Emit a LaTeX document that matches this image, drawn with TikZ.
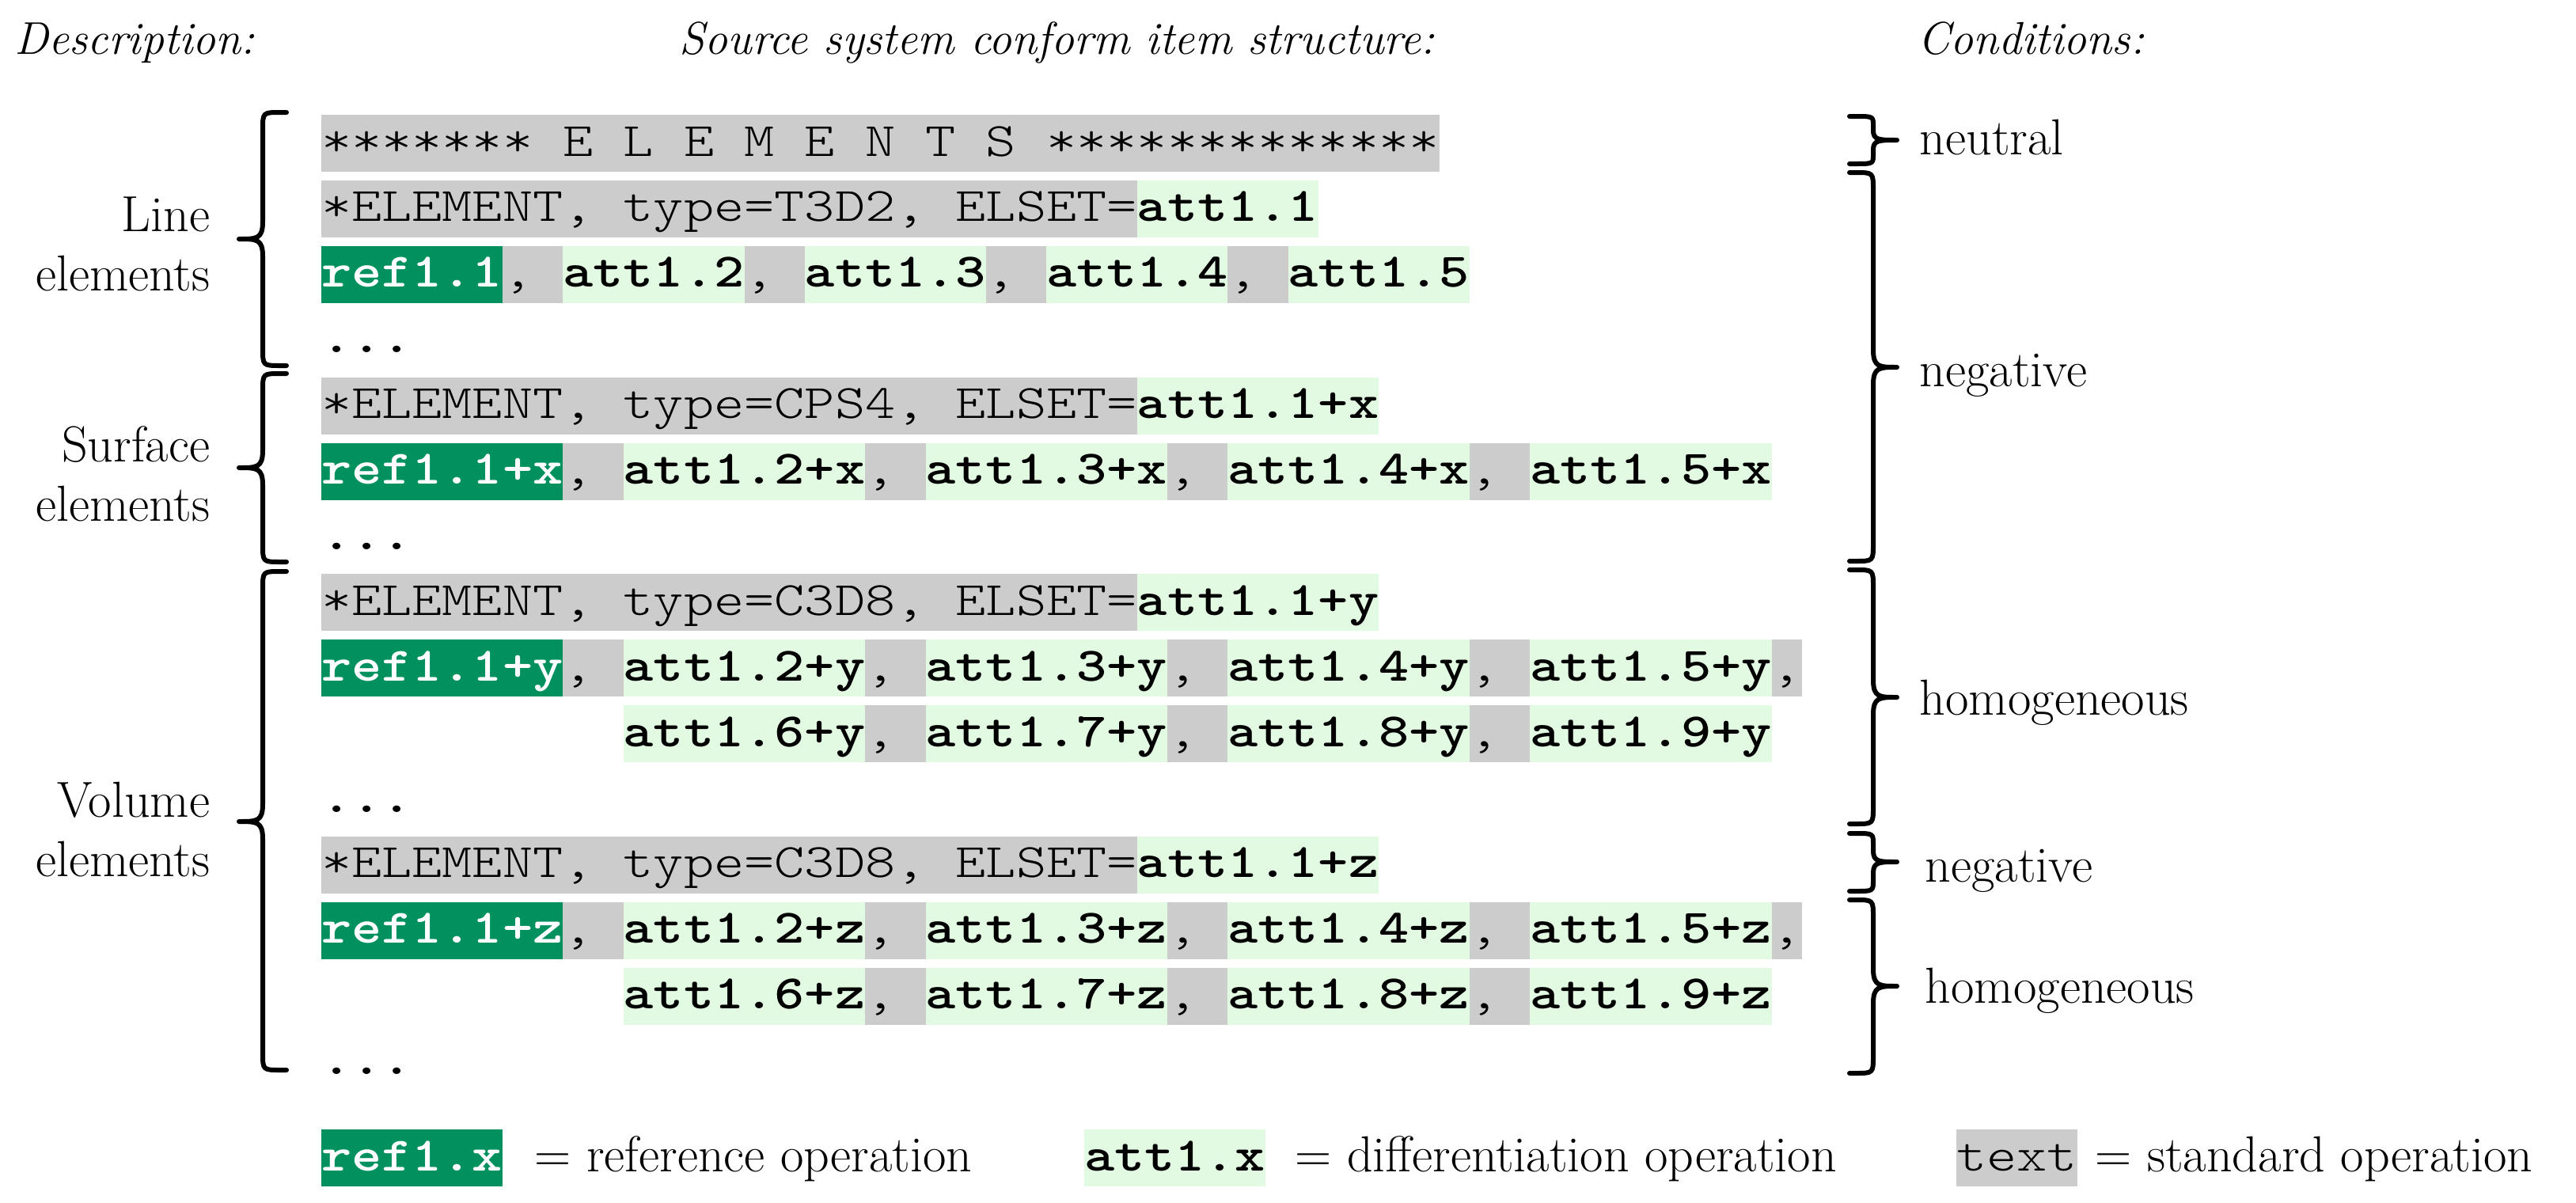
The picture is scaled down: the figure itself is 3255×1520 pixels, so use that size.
\documentclass[tikz,border=0pt]{standalone}
\usepackage{fontspec}
\newfontfamily\codefont{lmmonolt10-regular.otf}[FakeStretch=1.2,BoldFont=lmmonolt10-bold.otf]
\definecolor{refgreen}{RGB}{0,145,95}
\definecolor{attgreen}{RGB}{226,250,226}
\definecolor{stdgray}{RGB}{204,204,204}
\tikzset{
  codebox/.style={anchor=north west, inner sep=0pt, outer sep=0pt, text height=13pt, text depth=5pt,
    font=\codefont\fontsize{15.15}{18}\selectfont},
  stdseg/.style={codebox, fill=stdgray},
  attseg/.style={codebox, fill=attgreen, font=\codefont\fontsize{15.15}{18}\selectfont\bfseries},
  refseg/.style={codebox, fill=refgreen, text=white, font=\codefont\fontsize{15.15}{18}\selectfont\bfseries},
  plainseg/.style={codebox, font=\codefont\fontsize{15.15}{18}\selectfont\bfseries},
  lbl/.style={font=\fontsize{16}{18.75}\selectfont, inner sep=0pt},
  head/.style={font=\fontsize{14.5}{17}\selectfont\itshape, inner sep=0pt},
  bracestyle/.style={line width=1.5pt, line join=round, line cap=round}
}
% segment: style, name, position, number of characters, text
\newcommand\seg[5]{\node[#1seg, minimum width={#4*9.545pt}] (#2) at (#3) {#5};}
\newcommand\cs{,\hphantom{x}}
% curly brace: end x, half amplitude (signed), top y, tip y, bottom y, radius
\newcommand\cbrace[6]{%
  \draw[bracestyle] (#1,#3) -- ({#1+0.25*(#2)},#3) .. controls ({#1+#2},#3) .. ({#1+#2},{#3+#6})
    -- ({#1+#2},{#4-#6}) .. controls ({#1+#2},#4) and ({#1+1.25*(#2)},#4) .. ({#1+2*(#2)},#4)
    .. controls ({#1+1.25*(#2)},#4) and ({#1+#2},#4) .. ({#1+#2},{#4+#6})
    -- ({#1+#2},{#5-#6}) .. controls ({#1+#2},#5) .. ({#1+0.25*(#2)},#5) -- (#1,#5);}
\begin{document}
\begin{tikzpicture}[x=0.25pt, y=-0.25pt]
\useasboundingbox (0,0) rectangle (3255,1520);

% headers
\node[head, anchor=base west] (hdesc) at (18,68) {Description:};
\node[head, anchor=base] (hsrc) at (1336,68) {Source system conform item structure:};
\node[head, anchor=base west] (hcond) at (2423,68) {Conditions:};

% row 0
\seg{std}{r0a}{406,145}{37}{******* E L E M E N T S *************}
% row 1
\seg{std}{r1a}{406,227.9}{27}{*ELEMENT, type=T3D2, ELSET=}
\seg{att}{r1b}{r1a.north east}{6}{att1.1}
% row 2
\seg{ref}{r2a}{406,310.8}{6}{ref1.1}
\seg{std}{r2b}{r2a.north east}{2}{\cs}
\seg{att}{r2c}{r2b.north east}{6}{att1.2}
\seg{std}{r2d}{r2c.north east}{2}{\cs}
\seg{att}{r2e}{r2d.north east}{6}{att1.3}
\seg{std}{r2f}{r2e.north east}{2}{\cs}
\seg{att}{r2g}{r2f.north east}{6}{att1.4}
\seg{std}{r2h}{r2g.north east}{2}{\cs}
\seg{att}{r2i}{r2h.north east}{6}{att1.5}
% row 3
\seg{plain}{r3a}{406,393.7}{3}{...}
% row 4
\seg{std}{r4a}{406,476.6}{27}{*ELEMENT, type=CPS4, ELSET=}
\seg{att}{r4b}{r4a.north east}{8}{att1.1+x}
% row 5
\seg{ref}{r5a}{406,559.5}{8}{ref1.1+x}
\seg{std}{r5b}{r5a.north east}{2}{\cs}
\seg{att}{r5c}{r5b.north east}{8}{att1.2+x}
\seg{std}{r5d}{r5c.north east}{2}{\cs}
\seg{att}{r5e}{r5d.north east}{8}{att1.3+x}
\seg{std}{r5f}{r5e.north east}{2}{\cs}
\seg{att}{r5g}{r5f.north east}{8}{att1.4+x}
\seg{std}{r5h}{r5g.north east}{2}{\cs}
\seg{att}{r5i}{r5h.north east}{8}{att1.5+x}
% row 6
\seg{plain}{r6a}{406,642.4}{3}{...}
% row 7
\seg{std}{r7a}{406,725.3}{27}{*ELEMENT, type=C3D8, ELSET=}
\seg{att}{r7b}{r7a.north east}{8}{att1.1+y}
% row 8
\seg{ref}{r8a}{406,808.2}{8}{ref1.1+y}
\seg{std}{r8b}{r8a.north east}{2}{\cs}
\seg{att}{r8c}{r8b.north east}{8}{att1.2+y}
\seg{std}{r8d}{r8c.north east}{2}{\cs}
\seg{att}{r8e}{r8d.north east}{8}{att1.3+y}
\seg{std}{r8f}{r8e.north east}{2}{\cs}
\seg{att}{r8g}{r8f.north east}{8}{att1.4+y}
\seg{std}{r8h}{r8g.north east}{2}{\cs}
\seg{att}{r8i}{r8h.north east}{8}{att1.5+y}
\seg{std}{r8j}{r8i.north east}{1}{,}
% row 9
\seg{att}{r9a}{787.8,891.1}{8}{att1.6+y}
\seg{std}{r9b}{r9a.north east}{2}{\cs}
\seg{att}{r9c}{r9b.north east}{8}{att1.7+y}
\seg{std}{r9d}{r9c.north east}{2}{\cs}
\seg{att}{r9e}{r9d.north east}{8}{att1.8+y}
\seg{std}{r9f}{r9e.north east}{2}{\cs}
\seg{att}{r9g}{r9f.north east}{8}{att1.9+y}
% row 10
\seg{plain}{r10a}{406,974}{3}{...}
% row 11
\seg{std}{r11a}{406,1056.9}{27}{*ELEMENT, type=C3D8, ELSET=}
\seg{att}{r11b}{r11a.north east}{8}{att1.1+z}
% row 12
\seg{ref}{r12a}{406,1139.8}{8}{ref1.1+z}
\seg{std}{r12b}{r12a.north east}{2}{\cs}
\seg{att}{r12c}{r12b.north east}{8}{att1.2+z}
\seg{std}{r12d}{r12c.north east}{2}{\cs}
\seg{att}{r12e}{r12d.north east}{8}{att1.3+z}
\seg{std}{r12f}{r12e.north east}{2}{\cs}
\seg{att}{r12g}{r12f.north east}{8}{att1.4+z}
\seg{std}{r12h}{r12g.north east}{2}{\cs}
\seg{att}{r12i}{r12h.north east}{8}{att1.5+z}
\seg{std}{r12j}{r12i.north east}{1}{,}
% row 13
\seg{att}{r13a}{787.8,1222.7}{8}{att1.6+z}
\seg{std}{r13b}{r13a.north east}{2}{\cs}
\seg{att}{r13c}{r13b.north east}{8}{att1.7+z}
\seg{std}{r13d}{r13c.north east}{2}{\cs}
\seg{att}{r13e}{r13d.north east}{8}{att1.8+z}
\seg{std}{r13f}{r13e.north east}{2}{\cs}
\seg{att}{r13g}{r13f.north east}{8}{att1.9+z}
% row 14
\seg{plain}{r14a}{406,1305.6}{3}{...}

% left descriptions
\node[lbl, anchor=base east] (dline) at (266,292) {\begin{tabular}[t]{@{}r@{}}Line\\elements\end{tabular}};
\node[lbl, anchor=base east] (dsurf) at (266,583) {\begin{tabular}[t]{@{}r@{}}Surface\\elements\end{tabular}};
\node[lbl, anchor=base east] (dvol) at (266,1032) {\begin{tabular}[t]{@{}r@{}}Volume\\elements\end{tabular}};

% left braces
\cbrace{362}{-30}{142}{302}{462}{22}
\cbrace{362}{-30}{472}{591}{710}{22}
\cbrace{362}{-30}{722}{1038}{1352}{22}

% right braces
\cbrace{2337}{30}{147}{177}{207}{12}
\cbrace{2337}{30}{218}{464}{709}{22}
\cbrace{2337}{30}{720}{881}{1041}{22}
\cbrace{2337}{30}{1053}{1089}{1126}{14}
\cbrace{2337}{30}{1137}{1246}{1356}{22}

% conditions
\node[lbl, anchor=base west] (cneu) at (2425,195) {neutral};
\node[lbl, anchor=base west] (cneg1) at (2425,488) {negative};
\node[lbl, anchor=base west] (chom1) at (2425,903) {homogeneous};
\node[lbl, anchor=base west] (cneg2) at (2432,1114) {negative};
\node[lbl, anchor=base west] (chom2) at (2432,1267) {homogeneous};

% legend
\seg{ref}{lgref}{406,1427}{6}{ref1.x}
\node[lbl, anchor=base west] (lgreft) at (675,1480) {= reference operation};
\seg{att}{lgatt}{1370,1427}{6}{att1.x}
\node[lbl, anchor=base west] (lgattt) at (1636,1480) {= differentiation operation};
\seg{std}{lgstd}{2472,1427}{4}{text}
\node[lbl, anchor=base west] (lgstdt) at (2647,1480) {= standard operation};
\end{tikzpicture}
\end{document}
